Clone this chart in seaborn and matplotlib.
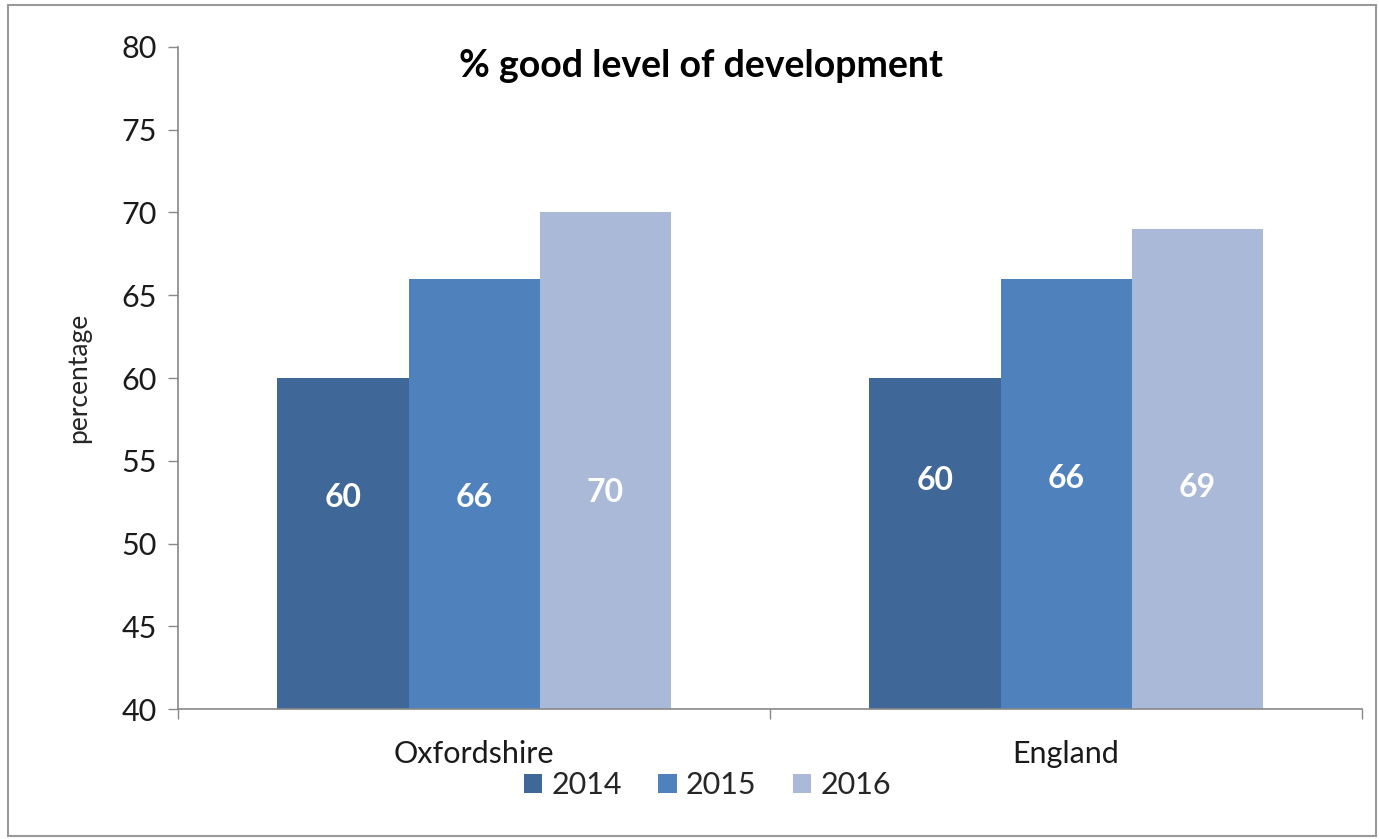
import pandas as pd
import numpy as np
import matplotlib.pyplot as plt
import seaborn as sns
from matplotlib.patches import Rectangle, Patch

areas = ['Oxfordshire', 'England']
years = ['2014', '2015', '2016']
oxfordshire_vals = [60, 66, 70]
england_vals = [60, 66, 69]
# vertical position of the value labels inside the bars (data units)
oxfordshire_label_y = [52.8, 52.8, 53.1]
england_label_y = [53.8, 53.9, 53.4]
colors = ['#3F6898', '#4F81BD', '#AAB9D8']

df = pd.DataFrame({
    'area': [a for a in areas for _ in years],
    'year': years * 2,
    'value': oxfordshire_vals + england_vals,
    'label_y': oxfordshire_label_y + england_label_y,
})

sns.set_style('white')
plt.rcParams['font.family'] = ['Lato', 'DejaVu Sans']

fig = plt.figure(figsize=(13.79, 8.39), dpi=100)
ax = fig.add_axes([0.1291, 0.1549, 0.8586, 0.7891])

sns.barplot(data=df, x='area', y='value', hue='year', palette=colors,
            width=0.664, gap=0, saturation=1, ax=ax, legend=False,
            edgecolor='none', linewidth=0)

ax.set_ylim(40, 80)
ax.set_xlim(-0.5, 1.5)
ax.set_yticks(np.arange(40, 81, 5))
ax.tick_params(axis='y', labelsize=22, length=7, width=1, color='#888888',
               direction='out', left=True, pad=8, labelcolor='#1a1a1a')

ax.set_xticks([-0.5, 0.5, 1.5])
ax.set_xticklabels(['', '', ''])
ax.set_xticks([0, 1], minor=True)
ax.set_xticklabels(areas, minor=True)
ax.tick_params(axis='x', which='major', length=7, width=1, color='#888888',
               direction='out', bottom=True)
ax.tick_params(axis='x', which='minor', length=0, labelsize=22, pad=22,
               labelcolor='#1a1a1a')
ax.set_xlabel('')
ax.set_ylabel('percentage', fontsize=19, labelpad=22)

sns.despine(ax=ax)
for s in ['left', 'bottom']:
    ax.spines[s].set_color('#888888')
    ax.spines[s].set_linewidth(1.2)

# value labels
for i, bar_container in enumerate(ax.containers):
    for j, bar in enumerate(bar_container):
        row = df[(df['area'] == areas[j]) & (df['year'] == years[i])].iloc[0]
        ax.text(bar.get_x() + bar.get_width() / 2, row['label_y'],
                str(row['value']), ha='center', va='center', color='white',
                fontsize=23, fontweight='bold')

fig.text(0.508, 0.921, '% good level of development', ha='center',
         va='center', fontsize=27, fontweight='bold', color='black')

handles = [Patch(facecolor=c, edgecolor='none') for c in colors]
fig.legend(handles, years, loc='center', bbox_to_anchor=(0.513, 0.064),
           ncol=3, frameon=False, fontsize=22, handlelength=0.6,
           handleheight=0.6, handletextpad=0.3, columnspacing=1.2)

fig.patches.append(Rectangle((0.006, 0.004), 0.992, 0.99, transform=fig.transFigure,
                             fill=False, edgecolor='#999999', linewidth=1.5))

plt.savefig('out.png', dpi=100)
